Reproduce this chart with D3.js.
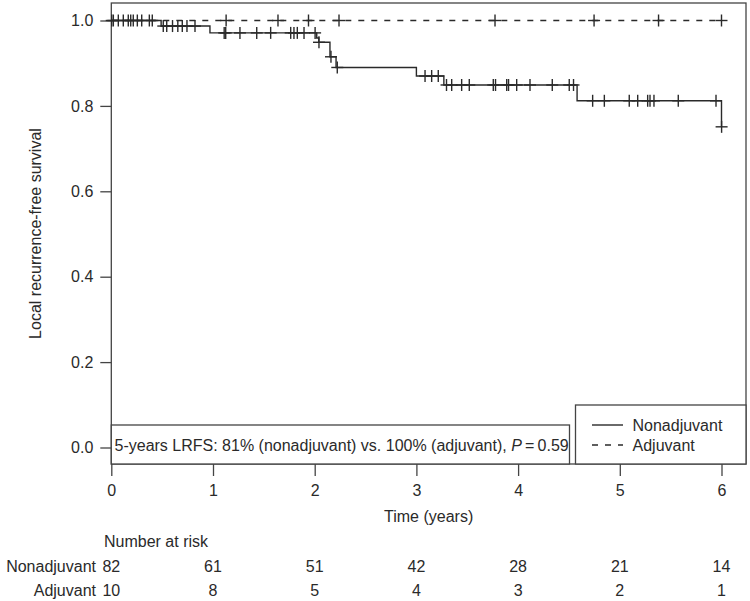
<!DOCTYPE html>
<html>
<head>
<meta charset="utf-8">
<script src="https://cdn.jsdelivr.net/npm/d3@7"></script>
<style>
  html, body { margin: 0; padding: 0; background: #fff; }
  svg { display: block; font-family: "Liberation Sans", Arial, Helvetica, sans-serif; }
</style>
</head>
<body>
<svg id="chart" width="750" height="601"></svg>
<script>
// ---- data ----
const timeTicks = [0, 1, 2, 3, 4, 5, 6];
const survTicks = [0, 0.2, 0.4, 0.6, 0.8, 1.0];
const groups = ["Nonadjuvant", "Adjuvant"];

// Nonadjuvant Kaplan-Meier steps (event times, survival after event)
const nonadjEventTimes = [0.49, 0.97, 2.02, 2.04, 2.15, 2.21, 3.00, 3.27, 4.58, 6.00];
const nonadjSurvival   = [0.987, 0.971, 0.959, 0.949, 0.915, 0.890, 0.870, 0.849, 0.812, 0.751];
const nonadjCensorTimes = [
  0.004, 0.020, 0.118, 0.167, 0.191, 0.256, 0.299, 0.374, 0.403,
  0.511, 0.545, 0.602, 0.654, 0.698, 0.744, 0.823,
  1.110, 1.125, 1.265, 1.430, 1.567, 1.764, 1.796, 1.829, 1.895, 2.004,
  2.042, 2.160, 2.222,
  3.085, 3.150, 3.215,
  3.296, 3.347, 3.445, 3.520, 3.756, 3.778, 3.888, 3.906, 3.986, 4.117, 4.336, 4.503, 4.545,
  4.733, 4.848, 5.093, 5.176, 5.274, 5.297, 5.336, 5.575, 5.946,
  6.001
];

// Adjuvant: no events
const adjEventTimes = [];
const adjSurvival = [];
const adjEndTime = 6.0;
const nonadjEndTime = 6.0;
const adjCensorTimes = [0.069, 0.216, 1.129, 1.639, 1.939, 2.239, 3.773, 4.747, 5.381, 6.0];

// Number at risk
const riskNonadj = [82, 61, 51, 42, 28, 21, 14];
const riskAdj = [10, 8, 5, 4, 3, 2, 1];

const annotation = ["5-years LRFS: 81% (nonadjuvant) vs. 100% (adjuvant), ", "P", "\u2009=\u20090.59"];

// ---- layout ----
const svg = d3.select("#chart");
const ink = "#2a2a2a";
const box = { left: 111.3, right: 746, top: 3, bottom: 464 };

const x = d3.scaleLinear().domain([0, 6]).range([111.3, 721.5]);
const y = d3.scaleLinear().domain([0, 1]).range([447.5, 20.5]);

function survAt(times, surv, t) {
  let s = 1;
  for (let i = 0; i < times.length; i++) if (times[i] <= t) s = surv[i];
  return s;
}

// plot box
svg.append("rect")
  .attr("x", box.left).attr("y", box.top)
  .attr("width", box.right - box.left).attr("height", box.bottom - box.top)
  .attr("fill", "none").attr("stroke", "#444").attr("stroke-width", 1.3);

// axes
const yAxis = svg.append("g")
  .attr("transform", `translate(${box.left},0)`)
  .call(d3.axisLeft(y).tickValues(survTicks).tickFormat(d3.format(".1f"))
        .tickSize(11).tickPadding(7).tickSizeOuter(0));
yAxis.select(".domain").remove();

const xAxis = svg.append("g")
  .attr("transform", `translate(0,${box.bottom})`)
  .call(d3.axisBottom(x).tickValues(timeTicks).tickFormat(d3.format("d"))
        .tickSize(12).tickPadding(9).tickSizeOuter(0));
xAxis.select(".domain").remove();

[yAxis, xAxis].forEach(g => {
  g.selectAll("line").attr("stroke", "#444").attr("stroke-width", 1.3);
  g.selectAll("text").attr("fill", ink).attr("font-size", 16)
    .style("font-family", '"Liberation Sans", Arial, sans-serif');
});

// axis titles
svg.append("text")
  .attr("transform", `translate(41,${(box.top + box.bottom) / 2}) rotate(-90)`)
  .attr("text-anchor", "middle").attr("font-size", 16).attr("fill", ink)
  .text("Local recurrence-free survival");

svg.append("text")
  .attr("x", (box.left + box.right) / 2).attr("y", 522)
  .attr("text-anchor", "middle").attr("font-size", 16).attr("fill", ink)
  .text("Time (years)");

// curves
const line = d3.line().x(d => x(d[0])).y(d => y(d[1])).curve(d3.curveStepAfter);

const adjPts = [[0, 1]].concat(adjEventTimes.map((t, i) => [t, adjSurvival[i]]));
adjPts.push([adjEndTime, survAt(adjEventTimes, adjSurvival, adjEndTime)]);
svg.append("path").attr("d", line(adjPts))
  .attr("fill", "none").attr("stroke", ink).attr("stroke-width", 1.4)
  .attr("stroke-dasharray", "6,7");

const nonPts = [[0, 1]].concat(nonadjEventTimes.map((t, i) => [t, nonadjSurvival[i]]));
nonPts.push([nonadjEndTime, survAt(nonadjEventTimes, nonadjSurvival, nonadjEndTime)]);
svg.append("path").attr("d", line(nonPts))
  .attr("fill", "none").attr("stroke", ink).attr("stroke-width", 1.4);

// censor marks
const h = 6;
function censors(times, evT, evS) {
  const g = svg.append("g").attr("stroke", ink).attr("stroke-width", 1.4);
  times.forEach(t => {
    const cx = x(t), cy = y(survAt(evT, evS, t));
    g.append("line").attr("x1", cx - h).attr("x2", cx + h).attr("y1", cy).attr("y2", cy);
    g.append("line").attr("x1", cx).attr("x2", cx).attr("y1", cy - h).attr("y2", cy + h);
  });
}
censors(adjCensorTimes, adjEventTimes, adjSurvival);
censors(nonadjCensorTimes, nonadjEventTimes, nonadjSurvival);

// annotation box
svg.append("rect")
  .attr("x", box.left).attr("y", 425).attr("width", 569.5 - box.left).attr("height", box.bottom - 425)
  .attr("fill", "#fff").attr("stroke", "#444").attr("stroke-width", 1.3);
const ann = svg.append("text").attr("x", 114.5).attr("y", 451)
  .attr("font-size", 16).attr("fill", ink);
ann.append("tspan").text(annotation[0]);
ann.append("tspan").attr("font-style", "italic").text(annotation[1]);
ann.append("tspan").text(annotation[2]);

// legend
svg.append("rect")
  .attr("x", 575.5).attr("y", 405).attr("width", box.right - 575.5).attr("height", box.bottom - 405)
  .attr("fill", "#fff").attr("stroke", "#444").attr("stroke-width", 1.3);
groups.forEach((g, i) => {
  const ly = 425 + i * 20;
  svg.append("line").attr("x1", 592).attr("x2", 623).attr("y1", ly).attr("y2", ly)
    .attr("stroke", ink).attr("stroke-width", 1.4)
    .attr("stroke-dasharray", i === 1 ? "6,7" : null);
  svg.append("text").attr("x", 632.5).attr("y", ly + 5.5)
    .attr("font-size", 16).attr("fill", ink).text(g);
});

// number at risk table
svg.append("text").attr("x", 104).attr("y", 547)
  .attr("font-size", 16).attr("fill", ink).text("Number at risk");
[riskNonadj, riskAdj].forEach((row, i) => {
  const ry = 572 + i * 24;
  svg.append("text").attr("x", 96).attr("y", ry).attr("text-anchor", "end")
    .attr("font-size", 16).attr("fill", ink).text(groups[i]);
  svg.append("g").selectAll("text").data(row).join("text")
    .attr("x", (d, j) => x(timeTicks[j])).attr("y", ry)
    .attr("text-anchor", "middle").attr("font-size", 16).attr("fill", ink)
    .text(d => d);
});
</script>
</body>
</html>
